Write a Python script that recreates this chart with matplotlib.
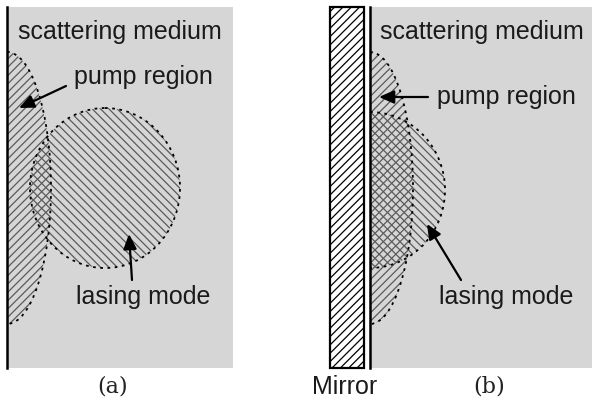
import matplotlib
matplotlib.use('Agg')
import matplotlib.pyplot as plt
from matplotlib.patches import Rectangle, Ellipse

plt.rcParams['hatch.linewidth'] = 0.9

# 画面坐标（像素，y 向下）
# 散射介质区域: x0, y0, x1, y1
medium_a = [7, 7, 233, 368]
medium_b = [370, 7, 592, 368]
mirror = [330, 7, 364, 368]

# 泵浦区与激光模式：中心 x, 中心 y, 半宽, 半高
pump_a = [7, 188, 44, 136]
mode_a = [105, 188, 75, 80]
pump_b = [370, 188, 43, 136]
mode_b = [370, 190, 75, 78]

# 文字标注: 文本, 文字位置, 箭头尖端位置
labels_a = [("scattering medium", (120, 32), None),
            ("pump region", (143, 77), (19, 108)),
            ("lasing mode", (143, 297), (129, 234))]
labels_b = [("scattering medium", (482, 32), None),
            ("pump region", (506, 97), (379, 97)),
            ("lasing mode", (506, 297), (427, 224))]
arrow_tail_a = [None, (66, 86), (132, 280)]
arrow_tail_b = [None, (428, 97), (461, 280)]
captions = [("(a)", (113, 387)), ("(b)", (489, 387))]
mirror_text = ("Mirror", (345, 387))

GRAY = '#d6d6d6'
HATCH = '#5a5a5a'
fig = plt.figure(figsize=(5.94, 4.04), dpi=100)
ax = fig.add_axes([0, 0, 1, 1])
ax.set_xlim(0, 594)
ax.set_ylim(404, 0)
ax.axis('off')


def draw_panel(medium, pump, mode, labels, tails):
    x0, y0, x1, y1 = medium
    bg = Rectangle((x0, y0), x1 - x0, y1 - y0, facecolor=GRAY,
                   edgecolor='none', zorder=1)
    ax.add_patch(bg)
    # 左侧边界线
    ax.plot([x0, x0], [y0, y1], color='black', lw=1.8, zorder=6)

    for par, hatch in ((pump, '////'), (mode, '\\\\\\\\')):
        cx, cy, rw, rh = par
        e = Ellipse((cx, cy), 2 * rw, 2 * rh, facecolor='none',
                    edgecolor=HATCH, lw=0, hatch=hatch, zorder=2)
        ax.add_patch(e)
        e.set_clip_path(bg)
        outline = Ellipse((cx, cy), 2 * rw, 2 * rh, facecolor='none',
                          edgecolor='black', lw=1.3,
                          linestyle=(0, (1.5, 2.5)), zorder=3)
        ax.add_patch(outline)
        outline.set_clip_path(bg)

    for (text, pos, tip), tail in zip(labels, tails):
        ax.text(pos[0], pos[1], text, fontsize=18, family='Liberation Sans',
                color='#1a1a1a', ha='center', va='center', zorder=5)
        if tip is not None:
            ax.annotate('', xy=tip, xytext=tail, zorder=5,
                        arrowprops=dict(arrowstyle='-|>,head_length=0.9,head_width=0.4',
                                        color='black', lw=1.6,
                                        shrinkA=0, shrinkB=0))


draw_panel(medium_a, pump_a, mode_a, labels_a, arrow_tail_a)
draw_panel(medium_b, pump_b, mode_b, labels_b, arrow_tail_b)

# 反射镜
mx0, my0, mx1, my1 = mirror
ax.add_patch(Rectangle((mx0, my0), mx1 - mx0, my1 - my0, facecolor='white',
                       edgecolor='black', lw=1.6, hatch='////', zorder=4))

for text, pos in captions:
    ax.text(pos[0], pos[1], text, fontsize=16, family='DejaVu Serif',
            color='#222222', ha='center', va='center')
ax.text(mirror_text[1][0], mirror_text[1][1], mirror_text[0], fontsize=18,
        family='Liberation Sans', color='#1a1a1a', ha='center', va='center')

fig.savefig('out.png', dpi=100, facecolor='white')
